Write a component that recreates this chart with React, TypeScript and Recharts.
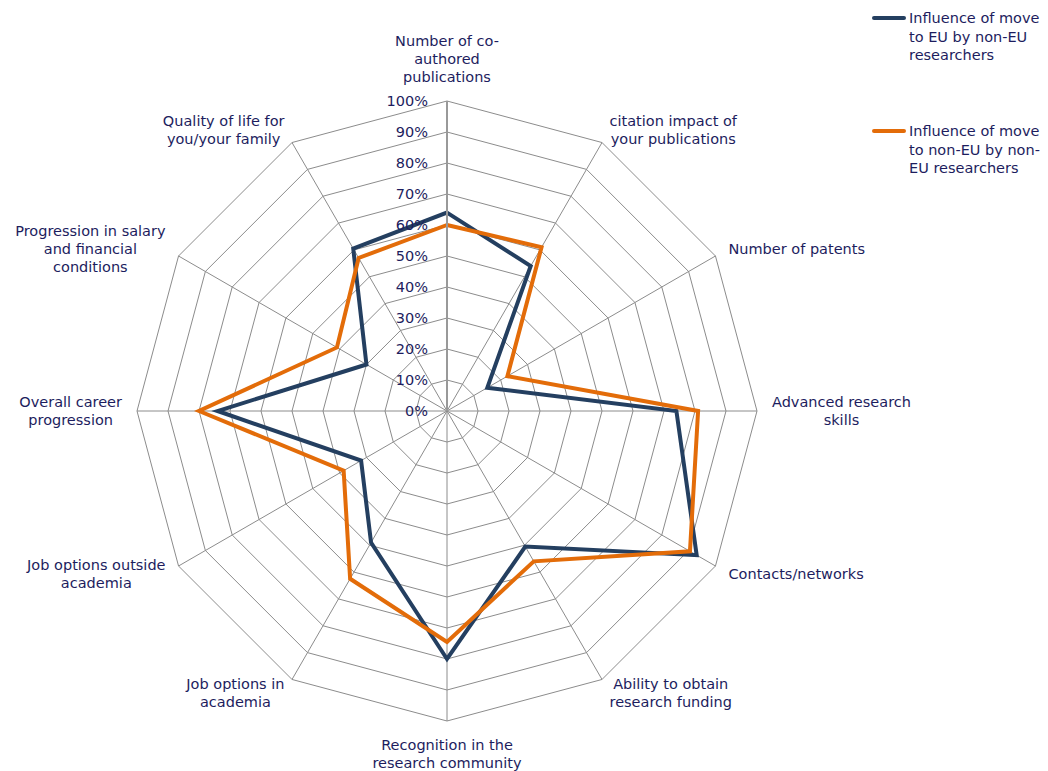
import {
  RadarChart,
  Radar,
  PolarGrid,
  PolarAngleAxis,
  PolarRadiusAxis,
  Legend,
} from "recharts";

// categories, clockwise from the top
const categories = [
  "Number of co-authored publications",
  "citation impact of your publications",
  "Number of patents",
  "Advanced research skills",
  "Contacts/networks",
  "Ability to obtain research funding",
  "Recognition in the research community",
  "Job options in academia",
  "Job options outside academia",
  "Overall career progression",
  "Progression in salary and financial conditions",
  "Quality of life for you/your family",
];

// how the labels break onto lines
const categoryLines = [
  ["Number of co-", "authored", "publications"],
  ["citation impact of", "your publications"],
  ["Number of patents"],
  ["Advanced research", "skills"],
  ["Contacts/networks"],
  ["Ability to obtain", "research funding"],
  ["Recognition in the", "research community"],
  ["Job options in", "academia"],
  ["Job options outside", "academia"],
  ["Overall career", "progression"],
  ["Progression in salary", "and financial", "conditions"],
  ["Quality of life for", "you/your family"],
];

const euValues = [64, 54, 15, 74, 93, 50.5, 80, 49, 32, 74, 30, 60.5];
const nonEuValues = [60, 61, 22.5, 81, 90.5, 56, 74.5, 62.5, 38.5, 80, 41, 57];

const seriesNames = [
  "Influence of move to EU by non-EU researchers",
  "Influence of move to non-EU by non-EU researchers",
];
const legendLines = [
  ["Influence of move", "to EU by non-EU", "researchers"],
  ["Influence of move", "to non-EU by non-", "EU researchers"],
];

const data = categories.map((c, i) => ({
  category: c,
  eu: euValues[i],
  nonEu: nonEuValues[i],
}));

const FONT = '"DejaVu Sans", Verdana, sans-serif';
const FONT_SIZE = 14.5;
const TEXT = "#1d1d5e";
const NAVY = "#243f60";
const ORANGE = "#e36c09";
const GRID = "#8c8c8c";
const CX = 439;
const CY = 403;
const R = 310;

let ctx: CanvasRenderingContext2D | null = null;
function textWidth(s: string) {
  if (!ctx) {
    ctx = document.createElement("canvas").getContext("2d");
  }
  if (!ctx) return s.length * 8.2;
  ctx.font = `${FONT_SIZE}px ${FONT}`;
  return ctx.measureText(s).width;
}

// category labels, placed like excel does: block beside the outer vertex
function AngleTick(props: any) {
  const { index } = props;
  const lines = categoryLines[index];
  const a = ((90 - index * 30) * Math.PI) / 180;
  const dx = Math.cos(a);
  const dy = -Math.sin(a);
  const px = CX + (R + 15) * dx;
  const py = CY + (R + 15) * dy;
  const w = Math.max(...lines.map(textWidth));
  const lh = 18;
  const h = lines.length * lh;
  let bx = px;
  let top = py - h / 2;
  if (Math.abs(dx) < 0.01) {
    top = dy < 0 ? py - h : py;
  } else {
    bx = dx > 0 ? px + w / 2 : px - w / 2;
  }
  return (
    <text fill={TEXT} fontSize={FONT_SIZE} fontFamily={FONT} textAnchor="middle">
      {lines.map((l, i) => (
        <tspan key={i} x={bx} y={top + lh * i + lh / 2} dy="0.35em">
          {l}
        </tspan>
      ))}
    </text>
  );
}

function RadiusTick(props: any) {
  const { x, y, payload } = props;
  return (
    <text
      x={x - 19}
      y={y}
      dy="0.35em"
      textAnchor="end"
      fill={TEXT}
      fontSize={FONT_SIZE}
      fontFamily={FONT}
    >
      {payload.value}%
    </text>
  );
}

function LegendBox(props: any) {
  const { payload } = props;
  return (
    <div style={{ fontFamily: FONT, fontSize: FONT_SIZE, color: TEXT }}>
      {(payload || []).map((p: any, i: number) => (
        <div
          key={i}
          style={{ position: "relative", height: 113, lineHeight: "18.5px" }}
        >
          <div
            style={{
              position: "absolute",
              left: 0,
              top: 7,
              width: 34,
              height: 4,
              borderRadius: 2,
              background: p.color,
            }}
          />
          <div style={{ position: "absolute", left: 37, top: 0, whiteSpace: "nowrap" }}>
            {legendLines[i].map((l, j) => (
              <div key={j}>{l}</div>
            ))}
          </div>
        </div>
      ))}
    </div>
  );
}

export default function App() {
  return (
    <div style={{ width: 1032, height: 763 }}>
      <RadarChart
        width={1032}
        height={763}
        data={data}
        cx={CX}
        cy={CY}
        outerRadius={R}
        margin={{ top: 0, right: 0, bottom: 0, left: 0 }}
        style={{ overflow: "visible" }}
      >
        <PolarGrid gridType="polygon" stroke={GRID} strokeWidth={1} />
        <PolarAngleAxis
          dataKey="category"
          tick={<AngleTick />}
          tickLine={false}
          axisLine={false}
        />
        <PolarRadiusAxis
          angle={90}
          domain={[0, 100]}
          tickCount={11}
          tick={<RadiusTick />}
          tickLine={false}
          axisLine={{ stroke: "#999999", strokeWidth: 2 }}
        />
        <Radar
          name={seriesNames[0]}
          dataKey="eu"
          stroke={NAVY}
          strokeWidth={4}
          strokeLinejoin="miter"
          fill="none"
          fillOpacity={0}
          dot={false}
          isAnimationActive={false}
        />
        <Radar
          name={seriesNames[1]}
          dataKey="nonEu"
          stroke={ORANGE}
          strokeWidth={4}
          strokeLinejoin="miter"
          fill="none"
          fillOpacity={0}
          dot={false}
          isAnimationActive={false}
        />
        <Legend
          content={<LegendBox />}
          wrapperStyle={{ position: "absolute", left: 864, top: 1, width: 176 }}
        />
      </RadarChart>
    </div>
  );
}
